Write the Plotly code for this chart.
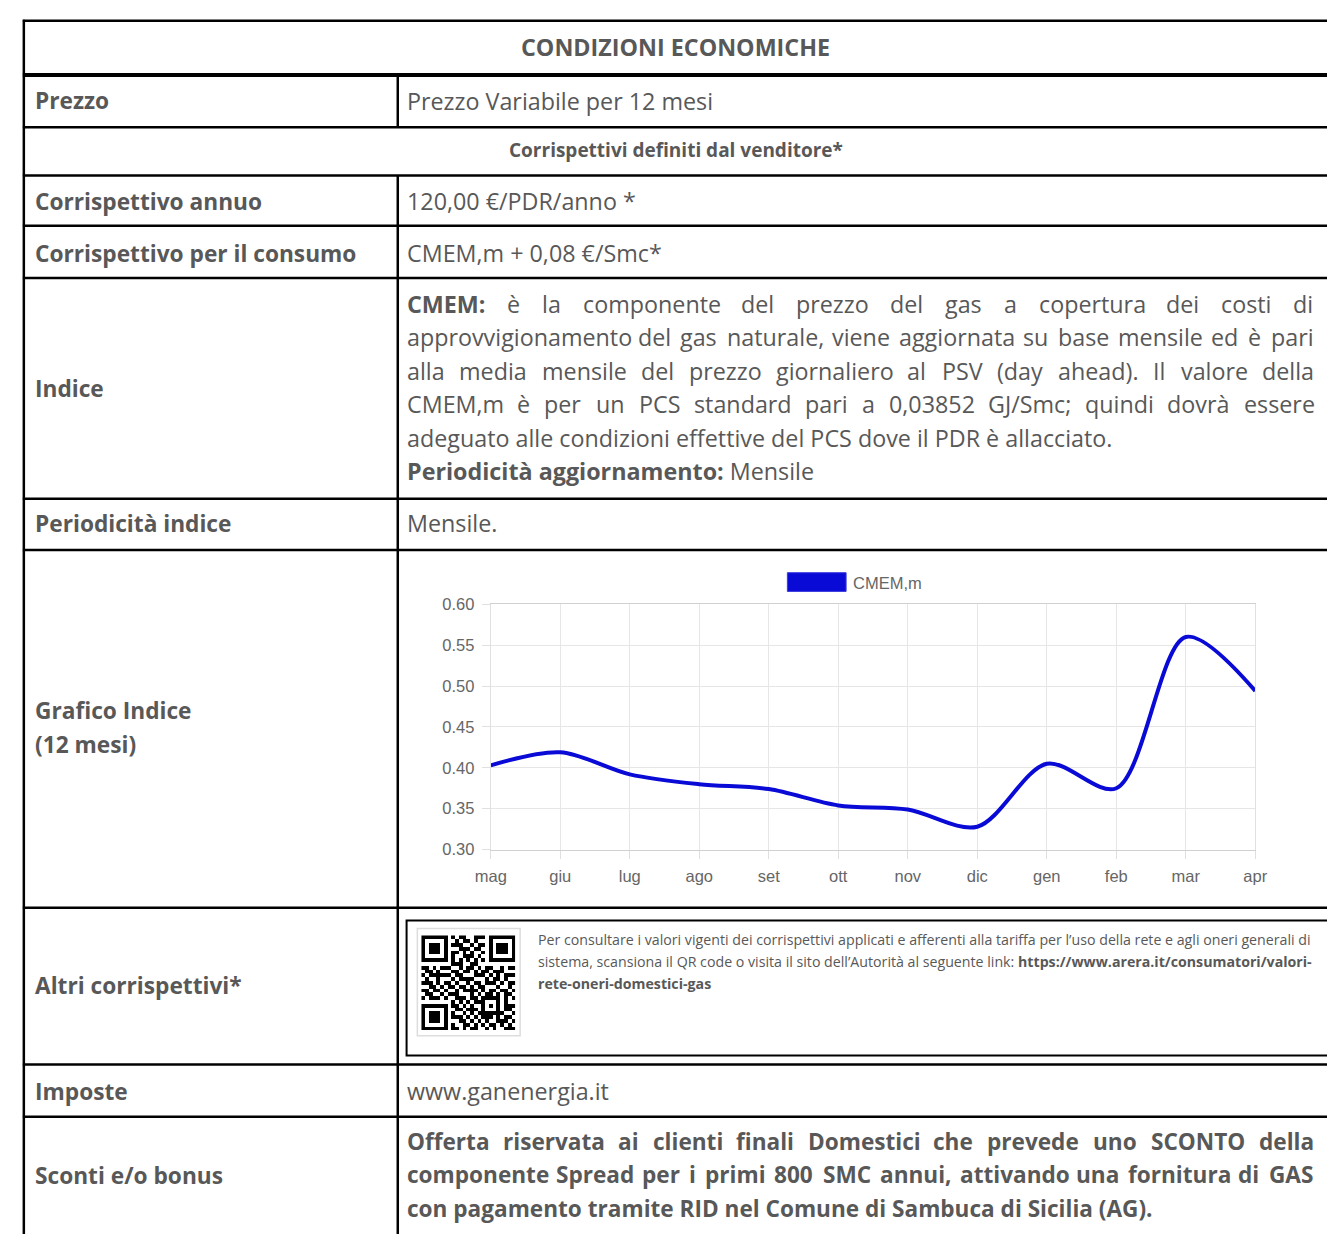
import plotly.graph_objects as go

W, H = 1327, 1238

# ---------------- data ----------------
months = ["mag", "giu", "lug", "ago", "set", "ott", "nov", "dic", "gen", "feb", "mar", "apr"]
cmem = [0.403, 0.419, 0.392, 0.380, 0.374, 0.354, 0.349, 0.328, 0.405, 0.375, 0.560, 0.494]
y_ticks = [0.30, 0.35, 0.40, 0.45, 0.50, 0.55, 0.60]
series_name = "CMEM,m"

title = "CONDIZIONI ECONOMICHE"
subtitle = "Corrispettivi definiti dal venditore*"
labels = ["Prezzo", "Corrispettivo annuo", "Corrispettivo per il consumo", "Indice",
          "Periodicità indice", "Grafico Indice", "(12 mesi)", "Altri corrispettivi*",
          "Imposte", "Sconti e/o bonus"]
values_simple = ["Prezzo Variabile per 12 mesi", "120,00 €/PDR/anno *",
                 "CMEM,m + 0,08 €/Smc*", "Mensile.", "www.ganenergia.it"]
indice_just = [
    "<b>CMEM:</b> è la componente del prezzo del gas a copertura dei costi di",
    "approvvigionamento del gas naturale, viene aggiornata su base mensile ed è pari",
    "alla media mensile del prezzo giornaliero al PSV (day ahead). Il valore della",
    "CMEM,m è per un PCS standard pari a 0,03852 GJ/Smc; quindi dovrà essere",
]
indice_left = [
    "adeguato alle condizioni effettive del PCS dove il PDR è allacciato.",
    "<b>Periodicità aggiornamento:</b> Mensile",
]
sconti_just = [
    "Offerta riservata ai clienti finali Domestici che prevede uno SCONTO della",
    "componente Spread per i primi 800 SMC annui, attivando una fornitura di GAS",
]
sconti_left = ["con pagamento tramite RID nel Comune di Sambuca di Sicilia (AG)."]
qr_text = [
    "Per consultare i valori vigenti dei corrispettivi applicati e afferenti alla tariffa per l’uso della rete e agli oneri generali di",
    "sistema, scansiona il QR code o visita il sito dell’Autorità al seguente link: <b>https://www.arera.it/consumatori/valori-</b>",
    "<b>rete-oneri-domestici-gas</b>",
]
qr_rows = [
    "1111111010110011101111111",
    "1000001001011010001000001",
    "1011101011100101101011101",
    "1011101000111011001011101",
    "1011101011010100101011101",
    "1000001010011101001000001",
    "1111111010101010101111111",
    "0000000011100110000000000",
    "1101011100101101011001011",
    "0110100011011010110111000",
    "1011111101100011101010111",
    "0100100010111100010110100",
    "1110101101001011011101011",
    "0011010110110101100010010",
    "1101101001011110101101101",
    "0110010111000101011010110",
    "1011101001110110111110101",
    "0000000010101011100010100",
    "1111111011010100101010111",
    "1000001001101110100010110",
    "1011101010010101111111001",
    "1011101011101010111010110",
    "1011101000110101010011101",
    "1000001010011010101101010",
    "1111111011010110010100111",
]

TXT = "#585858"
FONT = "Open Sans"
FS = 23.3
FS_LAB = 22.7
FS_SC = 22.6

# approximate Open Sans advance widths (units of 2048)
REG = {' ': 532, 'a': 1139, 'b': 1255, 'c': 975, 'd': 1255, 'e': 1149, 'f': 694, 'g': 1122,
       'h': 1257, 'i': 518, 'j': 518, 'k': 1075, 'l': 518, 'm': 1905, 'n': 1257, 'o': 1237,
       'p': 1255, 'q': 1255, 'r': 836, 's': 977, 't': 723, 'u': 1257, 'v': 1026, 'w': 1593,
       'x': 1073, 'y': 1028, 'z': 977, 'à': 1139, 'è': 1149, 'é': 1149, 'ò': 1237,
       'A': 1296, 'B': 1327, 'C': 1292, 'D': 1493, 'E': 1139, 'F': 1057, 'G': 1491,
       'H': 1511, 'I': 571, 'J': 547, 'K': 1257, 'L': 1073, 'M': 1849, 'N': 1544, 'O': 1595,
       'P': 1233, 'Q': 1595, 'R': 1266, 'S': 1124, 'T': 1139, 'U': 1491, 'V': 1219,
       '(': 604, ')': 604, ',': 502, '.': 545, ':': 545, ';': 545, '/': 752, '*': 1120}
for d in "0123456789":
    REG[d] = 1171
BOLD = {' ': 532, 'a': 1178, 'b': 1255, 'c': 1014, 'd': 1255, 'e': 1180, 'f': 819, 'g': 1124,
        'h': 1298, 'i': 586, 'l': 586, 'm': 1942, 'n': 1298, 'o': 1237, 'p': 1255, 'r': 889,
        's': 1006, 't': 807, 'u': 1298, 'v': 1169, 'z': 977, 'y': 1169, 'à': 1178, 'è': 1180,
        'A': 1399, 'C': 1292, 'D': 1493, 'E': 1087, 'G': 1458, 'I': 745, 'M': 1864,
        'N': 1540, 'O': 1599, 'P': 1249, 'R': 1323, 'S': 1104, 'T': 1159, 'H': 1516,
        '(': 694, ')': 694, ',': 586, '.': 586, ':': 586, ';': 586, '/': 797, '*': 1120}
for d in "0123456789":
    BOLD[d] = 1171


def wid(s, bold, fs):
    t = BOLD if bold else REG
    k = 1.04 if bold else 1.0
    return k * sum(t.get(c, 1150) for c in s) / 2048.0 * fs


ann = []
shapes = []


def px(x):
    return x / W


def py(y):
    return 1 - y / H


def txt(x, y, s, size=FS, color=TXT, anchor="left", family=FONT):
    ann.append(dict(x=px(x), y=py(y), xref="paper", yref="paper", text=s, showarrow=False,
                    xanchor=anchor, yanchor="middle", borderpad=0,
                    font=dict(family=family, size=size, color=color)))


def justify(line, y, x0, x1, size=FS, bold_all=False):
    words = line.split(" ")
    info = []
    for w in words:
        b = bold_all or "<b>" in w
        plain = w.replace("<b>", "").replace("</b>", "")
        info.append((w, b, wid(plain, b, size)))
    total = sum(i[2] for i in info)
    gap = (x1 - x0 - total) / (len(info) - 1)
    x = x0
    for w, b, ww in info:
        s = w if ("<b>" in w or not b) else "<b>" + w + "</b>"
        txt(x, y, s, size=size)
        x += ww + gap


def hline(y, x0, x1, w=2.5):
    shapes.append(dict(type="line", xref="paper", yref="paper", x0=px(x0), x1=px(x1),
                       y0=py(y), y1=py(y), line=dict(color="black", width=w)))


def vline(x, y0, y1, w=2.5):
    shapes.append(dict(type="line", xref="paper", yref="paper", x0=px(x), x1=px(x),
                       y0=py(y0), y1=py(y1), line=dict(color="black", width=w)))


# ---------------- table grid ----------------
row_lines = [12, 67, 120, 169, 220, 273, 497, 549, 912, 1071, 1124]
for yl in row_lines:
    hline(yl, 7, W + 20, 4 if yl == 67 else 2.5)
vline(8, 11, H + 5)
vline(390, 67, 120)
vline(390, 169, H + 5)

# ---------------- texts ----------------
txt(674, 39, "<b>" + title + "</b>", size=FS, anchor="center")
txt(674, 143, "<b>" + subtitle + "</b>", size=19, anchor="center")

label_y = [93, 195, 248, 385, 522, 712, 746, 991, 1098, 1184]
for lab, yy in zip(labels, label_y):
    txt(18, yy, "<b>" + lab + "</b>", size=FS_LAB)

simple_y = [93, 195, 248, 522, 1098]
for v, yy in zip(values_simple, simple_y):
    txt(398, yy, v)

RIGHT = 1324
for i, line in enumerate(indice_just):
    justify(line, 299 + 34 * i, 398, RIGHT)
for i, line in enumerate(indice_left):
    txt(398, 299 + 34 * (4 + i), line)

for i, line in enumerate(sconti_just):
    justify(line, 1149 + 34 * i, 398, RIGHT, size=FS_SC, bold_all=True)
for i, line in enumerate(sconti_left):
    txt(398, 1149 + 34 * (2 + i), "<b>" + line + "</b>", size=FS_SC)

# Altri corrispettivi box
shapes.append(dict(type="rect", xref="paper", yref="paper", x0=px(399), x1=px(W + 20),
                   y0=py(925), y1=py(1062), line=dict(color="black", width=2)))
shapes.append(dict(type="rect", xref="paper", yref="paper", x0=px(410), x1=px(515),
                   y0=py(933), y1=py(1042), line=dict(color="#dddddd", width=1.5)))
for i, line in enumerate(qr_text):
    txt(532, 944 + 22.5 * i, line, size=14.2, family="Liberation Sans Narrow, Open Sans")

# ---------------- chart ----------------
fig = go.Figure()
fig.add_trace(go.Scatter(
    x=list(range(len(months))), y=cmem, mode="lines", name=series_name,
    line=dict(color="#0a0ad6", width=4, shape="spline", smoothing=0.9),
    showlegend=False, hoverinfo="x+y"))

# legend box (Chart.js style)
shapes.append(dict(type="rect", xref="paper", yref="paper", x0=px(788), x1=px(848),
                   y0=py(591), y1=py(572), fillcolor="#0a0ad6",
                   line=dict(color="#3a3ae0", width=1)))
txt(854, 582, series_name, size=16.5, color="#666666", family="Liberation Sans, Arial")

# QR code
qr_z = [[int(c) for c in r] for r in qr_rows]
fig.add_trace(go.Heatmap(z=qr_z, xaxis="x2", yaxis="y2", showscale=False,
                         colorscale=[[0, "white"], [1, "black"]], zmin=0, zmax=1,
                         hoverinfo="skip"))

fig.update_layout(
    width=W, height=H, margin=dict(l=0, r=0, t=0, b=0),
    paper_bgcolor="white", plot_bgcolor="white",
    xaxis=dict(domain=[px(485), px(1266)], range=[0, 11], tickmode="array",
               tickvals=list(range(len(months))), ticktext=months,
               showgrid=True, gridcolor="#e6e6e6", gridwidth=1,
               showline=True, linecolor="#d0d0d0", mirror=True, zeroline=False,
               ticks="outside", ticklen=8, tickcolor="#e0e0e0", ticklabelstandoff=4,
               tickfont=dict(family="Liberation Sans, Arial", size=16.5, color="#666666"),
               fixedrange=True),
    yaxis=dict(domain=[py(853), py(604)], range=[0.30, 0.60], tickmode="array",
               tickvals=y_ticks, ticktext=["%.2f" % v for v in y_ticks],
               showgrid=True, gridcolor="#e6e6e6", gridwidth=1,
               showline=True, linecolor="#e0e0e0", mirror=True, zeroline=False,
               ticks="outside", ticklen=8, tickcolor="#e0e0e0", ticklabelstandoff=4,
               tickfont=dict(family="Liberation Sans, Arial", size=16.5, color="#666666"),
               fixedrange=True),
    xaxis2=dict(domain=[px(414), px(510)], range=[-0.5, 24.5], visible=False,
                anchor="y2", fixedrange=True),
    yaxis2=dict(domain=[py(1036), py(940)], range=[24.5, -0.5], visible=False,
                anchor="x2", fixedrange=True),
    annotations=ann, shapes=shapes,
)

fig.write_html("out.html", config={"displayModeBar": False},
               post_script="document.body.style.margin='0';")
